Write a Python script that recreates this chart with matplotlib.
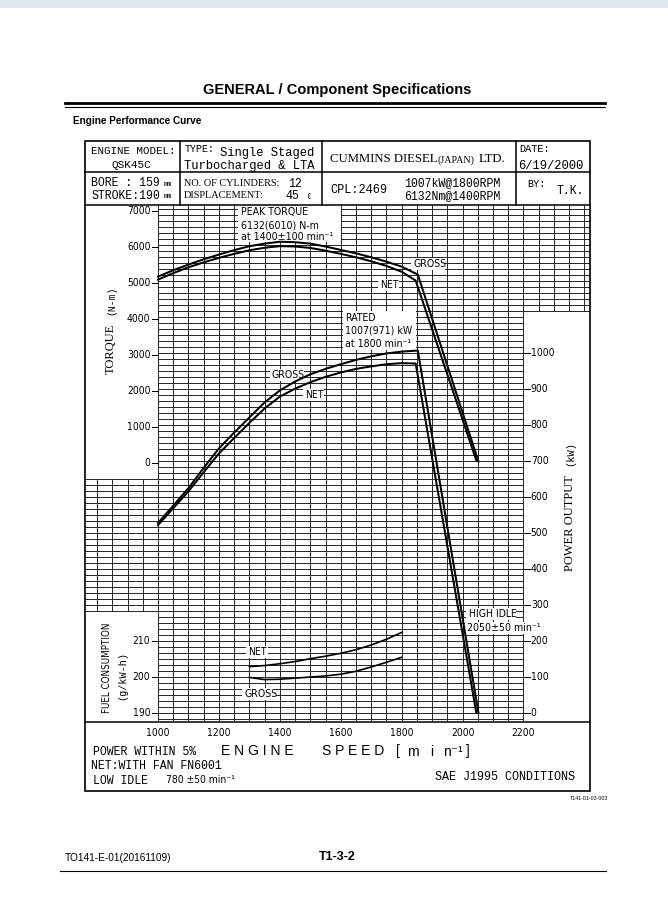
import matplotlib
matplotlib.use('Agg')
import matplotlib.pyplot as plt
from matplotlib import font_manager as fm
from matplotlib.patches import Rectangle
from matplotlib.lines import Line2D

W, H = 668, 906
fig = plt.figure(figsize=(W / 100, H / 100), dpi=100)
fig.patch.set_facecolor('white')

_fonts = fm.fontManager.ttflist
_has_cond = any(f.name == 'DejaVu Sans' and str(f.stretch) in ('condensed', 'semi-condensed')
                for f in _fonts)
_has_narrow = any(f.name == 'Liberation Sans Narrow' for f in _fonts)
if _has_narrow:
    NKW = dict(family=['Liberation Sans Narrow', 'DejaVu Sans'])
elif _has_cond:
    NKW = dict(family='DejaVu Sans', stretch='condensed')
else:
    NKW = dict(family=['Liberation Sans', 'DejaVu Sans'])
MONO = 'Liberation Mono'
SERIF = 'Liberation Serif'
SANS = 'Liberation Sans'

# ---------------- data ----------------
rpm_tq_gross = [1000, 1050, 1100, 1150, 1200, 1250, 1300, 1350, 1400, 1450, 1500, 1550,
                1600, 1650, 1700, 1750, 1800, 1853, 2052]
torque_gross = [5164, 5340, 5498, 5645, 5776, 5900, 6007, 6080, 6132, 6120, 6080, 6000,
                5905, 5810, 5700, 5580, 5440, 5220, 30]
rpm_tq_net = [1000, 1050, 1100, 1150, 1200, 1250, 1300, 1350, 1400, 1450, 1500, 1550,
              1600, 1650, 1700, 1750, 1800, 1846, 2045]
torque_net = [5080, 5260, 5423, 5560, 5684, 5795, 5896, 5965, 6010, 6000, 5960, 5885,
              5795, 5700, 5590, 5460, 5300, 5053, 60]
rpm_pw_gross = [1000, 1050, 1100, 1150, 1200, 1250, 1300, 1350, 1400, 1450, 1500, 1550,
                1600, 1650, 1700, 1750, 1800, 1853, 2052]
power_gross = [527, 575, 624, 680, 734, 778, 820, 862, 895, 920, 940, 955,
               968, 980, 990, 998, 1003, 1006, 0]
rpm_pw_net = [1000, 1050, 1100, 1150, 1200, 1250, 1300, 1350, 1400, 1450, 1500, 1550,
              1600, 1650, 1700, 1750, 1800, 1846, 2045]
power_net = [521, 568, 615, 668, 720, 763, 805, 845, 878, 900, 918, 933,
             945, 955, 962, 968, 971, 970, 0]
rpm_fuel = [1300, 1350, 1400, 1450, 1500, 1550, 1600, 1650, 1700, 1750, 1800]
fuel_net = [202.8, 203.1, 203.6, 204.2, 205.0, 205.7, 206.5, 207.5, 208.8, 210.4, 212.3]
fuel_gross = [199.8, 199.2, 199.3, 199.6, 199.9, 200.2, 200.7, 201.5, 202.7, 204.0, 205.4]

rpm_ticks = [1000, 1200, 1400, 1600, 1800, 2000, 2200]
torque_ticks = [0, 1000, 2000, 3000, 4000, 5000, 6000, 7000]
power_ticks = [0, 100, 200, 300, 400, 500, 600, 700, 800, 900, 1000]
fuel_ticks = [190, 200, 210]

# --------------- scale helpers ----------------
SX = 0.30458          # px per rpm
SY = 0.36             # px per kW
Y0 = 712.7            # px of power 0
def rx(px):
    return 1000 + (px - 158) / SX
def py(y):
    return (Y0 - y) / SY
def tq(T):            # torque -> common (power) axis
    return 695 + T / 10.0
def fc(F):            # fuel -> common axis
    return (F - 190) * 10.0

def ptext(x, y, s, **kw):
    kw.setdefault('va', 'center')
    kw.setdefault('ha', 'left')
    fig.text(x / W, 1 - y / H, s, **kw)

def fline(x0, y0, x1, y1, lw=1.0, color='black'):
    fig.add_artist(Line2D([x0 / W, x1 / W], [1 - y0 / H, 1 - y1 / H], lw=lw, color=color,
                          transform=fig.transFigure))

# --------------- main grid axes ---------------
ax = fig.add_axes([85 / W, 1 - 722 / H, (590 - 85) / W, (722 - 205) / H])
X0, X1 = rx(85), rx(590)
YB, YT = py(722), py(205)
ax.set_xlim(X0, X1)
ax.set_ylim(YB, YT)
ax.axis('off')

GRID_C = '#2a2a2a'
GLW = 0.72
step = 100 / 6.0
for k in range(-1, 85):
    P = k * step
    if P > YT:
        continue
    left = X0 if 17 <= k <= 39 else 1000
    right = X1 if k >= 67 else 2200
    ax.plot([left, right], [P, P], color=GRID_C, lw=GLW, zorder=1, solid_capstyle='butt')
for r in range(800, 2450, 50):
    if r < 1000:
        lo, hi = 17 * step, 39 * step
    elif r <= 2200:
        lo, hi = YB, YT
    else:
        lo, hi = 67 * step, YT
    ax.plot([r, r], [lo, hi], color=GRID_C, lw=GLW, zorder=1, solid_capstyle='butt')

# ticks + labels
tick_font = dict(fontsize=7.4, **NKW)
for T in torque_ticks:
    ax.plot([1000 - 20, 1000], [tq(T), tq(T)], color='black', lw=GLW, zorder=1)
    ax.text(1000 - 25, tq(T), str(T), ha='right', va='center', **tick_font)
for P in power_ticks:
    ax.plot([2200, 2220], [P, P], color='black', lw=GLW, zorder=1)
    ax.text(2224, P, str(P), ha='left', va='center', **tick_font)
for F in fuel_ticks:
    ax.plot([1000 - 20, 1000], [fc(F), fc(F)], color='black', lw=GLW, zorder=1)
    ax.text(1000 - 25, fc(F), str(F), ha='right', va='center', **tick_font)
for r in rpm_ticks:
    ax.text(r, (722 - 733) / 517.0, str(r), ha='center', va='center',
            transform=ax.get_xaxis_transform(), **tick_font)

# curves
CLW = 1.45
ax.plot(rpm_tq_gross, [tq(v) for v in torque_gross], color='black', lw=CLW, zorder=4)
ax.plot(rpm_tq_net, [tq(v) for v in torque_net], color='black', lw=CLW, zorder=4)
ax.plot(rpm_pw_gross, power_gross, color='black', lw=CLW, zorder=4)
ax.plot(rpm_pw_net, power_net, color='black', lw=CLW, zorder=4)
ax.plot(rpm_fuel, [fc(v) for v in fuel_net], color='black', lw=1.2, zorder=4)
ax.plot(rpm_fuel, [fc(v) for v in fuel_gross], color='black', lw=1.2, zorder=4)

# annotation boxes (pixel rectangles -> data)
def wbox(x0, y0, x1, y1):
    ax.add_patch(Rectangle((rx(x0), py(y1)), rx(x1) - rx(x0), py(y0) - py(y1),
                           facecolor='white', edgecolor='none', zorder=2))

def atext(x, y, s, size=7.6):
    ax.text(rx(x), py(y), s, ha='left', va='center', zorder=5, fontsize=size, **NKW)

wbox(238, 206, 341, 242)
atext(241, 212, 'PEAK TORQUE')
atext(241, 225, '6132(6010) N-m')
atext(241, 237, 'at 1400±100 min⁻¹')
wbox(411, 258, 445, 270)
atext(413, 264, 'GROSS')
wbox(378, 279, 399, 291)
atext(380, 285, 'NET')
wbox(343, 311, 416, 350)
atext(345, 318, 'RATED')
atext(345, 331, '1007(971) kW')
atext(345, 344, 'at 1800 min⁻¹')
wbox(270, 369, 304, 381)
atext(272, 375, 'GROSS')
wbox(303, 389, 324, 401)
atext(305, 395, 'NET')
wbox(466, 608, 516, 620)
atext(469, 614, 'HIGH IDLE')
wbox(465, 622, 537, 634)
atext(467, 628, '2050±50 min⁻¹')
wbox(246, 646, 268, 658)
atext(248, 652, 'NET')
wbox(242, 688, 276, 700)
atext(244, 694, 'GROSS')

# --------------- frame & header ---------------
fig.add_artist(Rectangle((85 / W, 1 - 790.5 / H), (589.5 - 85) / W, (790.5 - 141) / H,
                         transform=fig.transFigure, fill=False, edgecolor='black', lw=1.2))
for yy in (172, 205, 722):
    fline(85, yy, 589.5, yy, lw=1.1)
for xx in (180, 322, 516):
    fline(xx, 141, xx, 205, lw=1.1)

ptext(91, 151, 'ENGINE MODEL:', family=MONO, fontsize=7.8)
ptext(131, 165, 'QSK45C', family=MONO, fontsize=8, ha='center')
ptext(185, 149, 'TYPE:', family=MONO, fontsize=7.2)
ptext(220, 153, 'Single Staged', family=MONO, fontsize=8.7)
ptext(184, 166, 'Turbocharged & LTA', family=MONO, fontsize=8.7)
ptext(330, 159, 'CUMMINS DIESEL', family=SERIF, fontsize=9.2)
ptext(438, 160, '(JAPAN)', family=SERIF, fontsize=7.2)
ptext(479, 159, 'LTD.', family=SERIF, fontsize=9.2)
ptext(519, 149, 'DATE:', family=MONO, fontsize=7.3)
ptext(518, 166, '6/19/2000', family=MONO, fontsize=8.7)

ptext(91, 183, 'BORE : 159', family=MONO, fontsize=8.3)
ptext(164, 184, 'mm', family=MONO, fontsize=5)
ptext(91, 196, 'STROKE:190', family=MONO, fontsize=8.3)
ptext(164, 197, 'mm', family=MONO, fontsize=5)
ptext(184, 183, 'NO. OF CYLINDERS:', family=SERIF, fontsize=7.4)
ptext(288, 184, '12', family=MONO, fontsize=8.3)
ptext(184, 196, 'DISPLACEMENT:', family=SERIF, fontsize=7.4)
ptext(285, 196, '45', family=MONO, fontsize=8.3)
ptext(306, 197, 'ℓ', family=[SERIF, 'DejaVu Serif'], fontsize=6.5)
ptext(330, 190, 'CPL:2469', family=MONO, fontsize=8.6)
ptext(404, 183, '1007kW@1800RPM', family=MONO, fontsize=8.3)
ptext(404, 196, '6132Nm@1400RPM', family=MONO, fontsize=8.3)
ptext(527, 184, 'BY:', family=MONO, fontsize=7.3)
ptext(557, 191, 'T.K.', family=MONO, fontsize=8.3)

# axis titles
ptext(111, 349, 'TORQUE', family=SERIF, fontsize=9, rotation=90, ha='center')
ptext(111, 300, '(N-m)', family=MONO, fontsize=7, rotation=90, ha='center')
ptext(570, 523, 'POWER OUTPUT', family=SERIF, fontsize=9, rotation=90, ha='center')
ptext(570, 454, '(kW)', family=MONO, fontsize=7.5, rotation=90, ha='center')
ptext(107, 668, 'FUEL CONSUMPTION', fontsize=7.0, rotation=90, ha='center', **NKW)
ptext(122, 675, '(g/kW-h)', family=MONO, fontsize=7.3, rotation=90, ha='center')

# bottom text
ptext(93, 752, 'POWER WITHIN 5%', family=MONO, fontsize=8.3)
ptext(221, 751, 'E N G I N E', family=SANS, fontsize=10)
ptext(322, 751, 'S P E E D', family=SANS, fontsize=10)
ptext(396, 751, '[', family=SANS, fontsize=10)
ptext(407, 752, 'm', family=SANS, fontsize=10)
ptext(430, 752, 'i', family=SANS, fontsize=10)
ptext(443, 752, 'n⁻¹', family=[SANS, 'DejaVu Sans'], fontsize=10)
ptext(466, 751, ']', family=SANS, fontsize=10)
ptext(91, 766, 'NET:WITH FAN FN6001', family=MONO, fontsize=8.3)
ptext(93, 781, 'LOW IDLE', family=MONO, fontsize=8.3)
ptext(166, 780, '780 ±50 min⁻¹', fontsize=7.4, **NKW)
ptext(575, 777, 'SAE J1995 CONDITIONS', family=MONO, fontsize=8.5, ha='right')
ptext(608, 799, 'T141-01-03-003', family=SANS, fontsize=3.8, ha='right')

# page header/footer
fig.add_artist(Rectangle((0, 1 - 8 / H), 1, 8 / H, transform=fig.transFigure,
                         facecolor='#dde7f2', edgecolor='none'))
ptext(337, 90, 'GENERAL / Component Specifications', family=SANS, weight='bold',
      fontsize=10.5, ha='center')
fline(65, 103, 605, 103, lw=2.0)
fline(65, 106.5, 605, 106.5, lw=0.8)
ptext(73, 121, 'Engine Performance Curve', family=SANS, weight='bold', fontsize=7.2)
ptext(65, 858, 'TO141-E-01(20161109)', family=SANS, fontsize=7.3)
ptext(337, 857, 'T1-3-2', family=SANS, weight='bold', fontsize=9, ha='center')
fline(60, 870.5, 606, 870.5, lw=0.8)

fig.savefig('out.png', dpi=100)
